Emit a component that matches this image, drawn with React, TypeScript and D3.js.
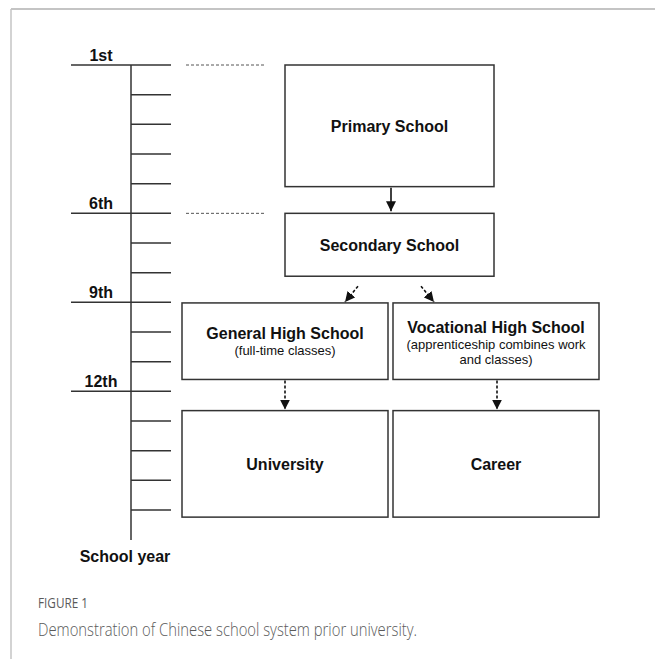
import React from "react";
import * as d3 from "d3";

// ---- data ----
const yearCount = 16;
const yearLabels = [
  { index: 0, label: "1st" },
  { index: 5, label: "6th" },
  { index: 8, label: "9th" },
  { index: 11, label: "12th" },
];
const dashedGuides = [0, 5];
const boxTitles = [
  "Primary School",
  "Secondary School",
  "General High School",
  "Vocational High School",
  "University",
  "Career",
];
const boxSubtitles: string[][] = [
  [],
  [],
  ["(full-time classes)"],
  ["(apprenticeship combines work", "and classes)"],
  [],
  [],
];
const axisTitle = "School year";
const figureLabel = "FIGURE 1";
const figureCaption = "Demonstration of Chinese school system prior university.";

// ---- layout ----
const W = 655;
const H = 659;
const y = d3.scaleLinear().domain([0, yearCount - 1]).range([65, 510]);
const axisX = 131;

// boxes in year-index units for y, pixels for x
const boxLayout = [
  { x0: 285, x1: 494, y0: 0, y1: 4.1 },
  { x0: 285, x1: 494, y0: 5, y1: 7.12 },
  { x0: 182, x1: 388, y0: 8.02, y1: 10.6 },
  { x0: 393, x1: 599, y0: 8.02, y1: 10.6 },
  { x0: 182, x1: 388, y0: 11.65, y1: 15.24 },
  { x0: 393, x1: 599, y0: 11.65, y1: 15.24 },
];

const FONT = "'Liberation Sans', Arial, Helvetica, sans-serif";
const CAP_FONT = "'Open Sans', 'Noto Sans', sans-serif";
const INK = "#111";
const LINE = "#333";

export default function App() {
  const ticks = d3.range(yearCount);
  const majorIdx = new Set(yearLabels.map((d) => d.index));

  const boxes = boxLayout.map((b, i) => ({
    ...b,
    top: y(b.y0),
    bottom: y(b.y1),
    title: boxTitles[i],
    subs: boxSubtitles[i],
  }));

  const arrows = [
    { x1: 391, y1: boxes[0].bottom + 1, x2: 391, y2: boxes[1].top - 2, dashed: false },
    { x1: 358, y1: boxes[1].bottom + 10, x2: 345, y2: boxes[2].top - 1, dashed: true },
    { x1: 421, y1: boxes[1].bottom + 10, x2: 434, y2: boxes[3].top - 1, dashed: true },
    { x1: 285, y1: boxes[2].bottom + 1, x2: 285, y2: boxes[4].top - 1, dashed: true },
    { x1: 497, y1: boxes[3].bottom + 1, x2: 497, y2: boxes[5].top - 1, dashed: true },
  ];

  return (
    <svg
      width={W}
      height={H}
      style={{ position: "absolute", left: 0, top: 0, background: "#fff" }}
    >
      <defs>
        <marker
          id="head"
          viewBox="0 0 10 10"
          refX="10"
          refY="5"
          markerUnits="userSpaceOnUse"
          markerWidth="10"
          markerHeight="10"
          orient="auto"
        >
          <path d="M0,0 L10,5 L0,10 Z" fill="#111" />
        </marker>
      </defs>

      {/* frame */}
      <line x1={11} y1={9} x2={W} y2={9} stroke="#c4c4c4" strokeWidth={2} />
      <line x1={11} y1={9} x2={11} y2={H} stroke="#c4c4c4" strokeWidth={1.5} />

      {/* axis */}
      <line x1={axisX} y1={y(0)} x2={axisX} y2={540} stroke={LINE} strokeWidth={1.5} />
      {ticks.map((t) => (
        <line
          key={t}
          x1={majorIdx.has(t) ? 71 : axisX}
          x2={171}
          y1={y(t)}
          y2={y(t)}
          stroke={LINE}
          strokeWidth={1.5}
        />
      ))}
      {yearLabels.map((d) => (
        <text
          key={d.label}
          x={101}
          y={y(d.index) - 4}
          textAnchor="middle"
          fontFamily={FONT}
          fontWeight="bold"
          fontSize={16}
          fill={INK}
        >
          {d.label}
        </text>
      ))}
      <text
        x={125}
        y={562}
        textAnchor="middle"
        fontFamily={FONT}
        fontWeight="bold"
        fontSize={16}
        fill={INK}
      >
        {axisTitle}
      </text>

      {/* dashed guides */}
      {dashedGuides.map((g) => (
        <line
          key={g}
          x1={186}
          x2={264}
          y1={y(g)}
          y2={y(g)}
          stroke="#555"
          strokeWidth={1}
          strokeDasharray="3,2"
        />
      ))}

      {/* boxes */}
      {boxes.map((b, i) => {
        const cx = (b.x0 + b.x1) / 2;
        const cy = (b.top + b.bottom) / 2;
        const lines = 1 + b.subs.length;
        const titleY = lines === 1 ? cy + 6 : lines === 2 ? cy - 2 : cy - 8;
        return (
          <g key={i}>
            <rect
              x={b.x0}
              y={b.top}
              width={b.x1 - b.x0}
              height={b.bottom - b.top}
              fill="#fff"
              stroke={LINE}
              strokeWidth={1.5}
            />
            <text
              x={cx}
              y={titleY}
              textAnchor="middle"
              fontFamily={FONT}
              fontWeight="bold"
              fontSize={16}
              fill={INK}
            >
              {b.title}
            </text>
            {b.subs.map((s, j) => (
              <text
                key={j}
                x={cx}
                y={titleY + 16 + j * 15}
                textAnchor="middle"
                fontFamily={FONT}
                fontSize={13}
                fill={INK}
              >
                {s}
              </text>
            ))}
          </g>
        );
      })}

      {/* arrows */}
      {arrows.map((a, i) => (
        <line
          key={i}
          x1={a.x1}
          y1={a.y1}
          x2={a.x2}
          y2={a.y2}
          stroke="#111"
          strokeWidth={1.6}
          strokeDasharray={a.dashed ? "3,2" : undefined}
          markerEnd="url(#head)"
        />
      ))}

      {/* caption */}
      <text
        x={38}
        y={608}
        fontFamily={CAP_FONT}
        fontSize={14}
        fill="#5a5a5a"
        textLength={50}
        lengthAdjust="spacingAndGlyphs"
      >
        {figureLabel}
      </text>
      <text
        x={38}
        y={636}
        fontFamily={CAP_FONT}
        fontWeight={300}
        fontSize={18}
        fill="#5a5a5a"
        textLength={379}
        lengthAdjust="spacingAndGlyphs"
      >
        {figureCaption}
      </text>
    </svg>
  );
}
